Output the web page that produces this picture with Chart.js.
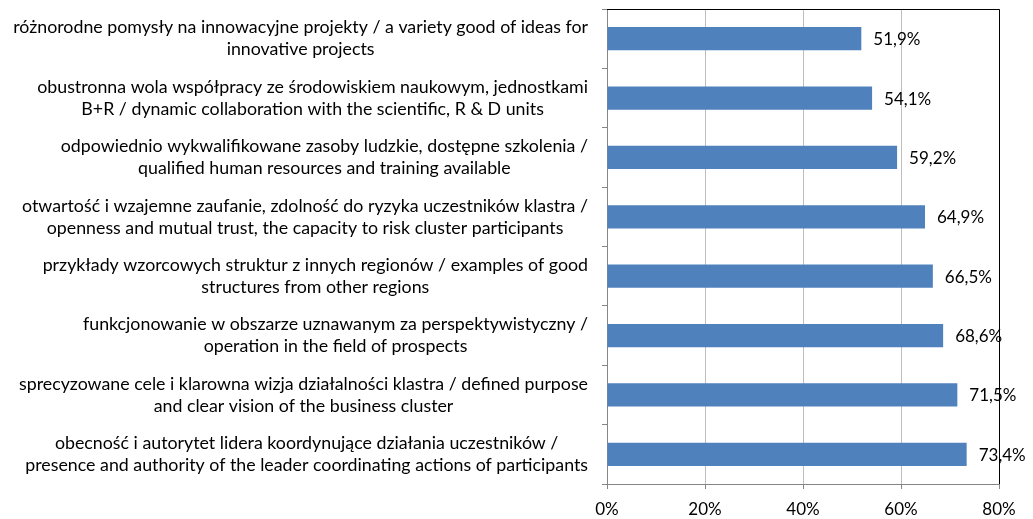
<!DOCTYPE html>
<html lang="pl">
<head>
  <meta charset="UTF-8">
  <title>Czynniki sukcesu klastra</title>
  <script src="https://cdn.jsdelivr.net/npm/chart.js"></script>
  <style>
    body {
      margin: 0;
      background-color: #ffffff;
    }
    .chart-box {
      width: 1033px;
      height: 519px;
    }
  </style>
</head>
<body>
  <div class="chart-box">
    <canvas id="barChart"></canvas>
  </div>

  <script>
    // categories, top to bottom, two lines each as in the picture
    const categories = [
      ['różnorodne pomysły na innowacyjne projekty / a variety good of ideas for', 'innovative projects'],
      ['obustronna wola współpracy ze środowiskiem naukowym, jednostkami', 'B+R / dynamic collaboration with the scientific, R & D units'],
      ['odpowiednio wykwalifikowane zasoby ludzkie, dostępne szkolenia /', 'qualified human resources and training available'],
      ['otwartość i wzajemne zaufanie, zdolność do ryzyka uczestników klastra /', 'openness and mutual trust, the capacity to risk cluster participants'],
      ['przykłady wzorcowych struktur z innych regionów / examples of good', 'structures from other regions'],
      ['funkcjonowanie w obszarze uznawanym za perspektywistyczny /', 'operation in the field of prospects'],
      ['sprecyzowane cele i klarowna wizja działalności klastra / defined purpose', 'and clear vision of the business cluster'],
      ['obecność i autorytet lidera koordynujące działania uczestników /', 'presence and authority of the leader coordinating actions of participants']
    ];
    const values = [51.9, 54.1, 59.2, 64.9, 66.5, 68.6, 71.5, 73.4];
    const xTicks = [0, 20, 40, 60, 80];

    const FONT = 'Lato, "Open Sans", sans-serif';

    // fit the category text into the space left of the axis
    function fitLabelSize() {
      const c = document.createElement('canvas').getContext('2d');
      c.font = '18px ' + FONT;
      let widest = 0;
      categories.forEach(lines => lines.forEach(l => {
        widest = Math.max(widest, c.measureText(l).width);
      }));
      return Math.min(18, Math.floor(18 * 578 / widest * 10) / 10);
    }
    const labelSize = fitLabelSize();

    const fmt = v => v.toFixed(1).replace('.', ',') + '%';

    const drawExtras = {
      id: 'drawExtras',
      afterDatasetsDraw(chart) {
        const ctx = chart.ctx;
        const meta = chart.getDatasetMeta(0);
        ctx.save();
        ctx.font = '17px ' + FONT;
        ctx.fillStyle = '#000';
        ctx.textAlign = 'left';
        ctx.textBaseline = 'middle';
        meta.data.forEach((bar, i) => {
          ctx.fillText(fmt(values[i]), bar.x + 12, bar.y + 1);
        });
        ctx.restore();
      },
      afterDraw(chart) {
        const ctx = chart.ctx;
        const area = chart.chartArea;
        const y = chart.scales.y;

        // top and right edge of the plot area
        ctx.save();
        ctx.strokeStyle = '#000';
        ctx.lineWidth = 1;
        ctx.beginPath();
        ctx.moveTo(area.left, area.top + 0.5);
        ctx.lineTo(area.right + 0.5, area.top + 0.5);
        ctx.lineTo(area.right + 0.5, area.bottom);
        ctx.stroke();

        // category labels: lines centred on each other, block set against the axis
        ctx.font = labelSize + 'px ' + FONT;
        ctx.fillStyle = '#000';
        ctx.textAlign = 'center';
        ctx.textBaseline = 'middle';
        categories.forEach((lines, i) => {
          const cy = y.getPixelForValue(i);
          const w = Math.max(...lines.map(l => ctx.measureText(l).width));
          const cx = area.left - 19 - w / 2;
          lines.forEach((l, j) => {
            ctx.fillText(l, cx, cy + (j - (lines.length - 1) / 2) * 22);
          });
        });
        ctx.restore();
      }
    };

    new Chart(document.getElementById('barChart'), {
      type: 'bar',
      data: {
        labels: categories,
        datasets: [{
          data: values,
          backgroundColor: '#4F81BD',
          borderWidth: 0,
          categoryPercentage: 1,
          barPercentage: 0.39
        }]
      },
      options: {
        indexAxis: 'y',
        responsive: true,
        maintainAspectRatio: false,
        animation: false,
        layout: {
          padding: { top: 9, right: 34, left: 0, bottom: 0 }
        },
        plugins: {
          legend: { display: false },
          tooltip: { enabled: false }
        },
        scales: {
          x: {
            min: xTicks[0],
            max: xTicks[xTicks.length - 1],
            afterFit: s => { s.height = 35; },
            afterBuildTicks: s => { s.ticks = xTicks.map(v => ({ value: v })); },
            ticks: {
              callback: v => v + '%',
              color: '#000',
              padding: 10,
              font: { family: FONT, size: 17 }
            },
            grid: {
              color: '#BEBEBE',
              tickColor: '#868686',
              tickLength: 5
            },
            border: { color: '#868686' }
          },
          y: {
            afterFit: s => { s.width = 607; },
            ticks: { display: false },
            grid: {
              drawOnChartArea: false,
              offset: true,
              tickColor: '#868686',
              tickLength: 5
            },
            border: { color: '#868686' }
          }
        }
      },
      plugins: [drawExtras]
    });
  </script>
</body>
</html>
